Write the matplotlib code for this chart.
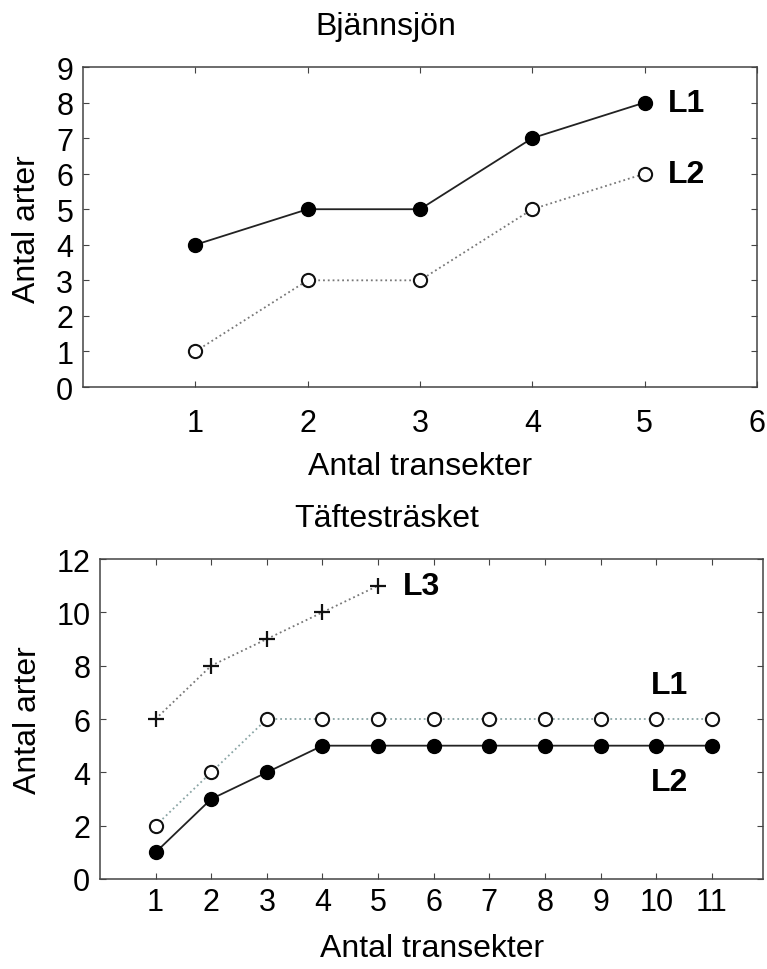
import matplotlib
matplotlib.use("Agg")
import matplotlib.pyplot as plt

plt.rcParams['font.family'] = ['Liberation Sans', 'DejaVu Sans']

# ---- data ----
top_title = "Bjännsjön"
bot_title = "Täftesträsket"
xlabel = "Antal transekter"
ylabel = "Antal arter"

top_x = [1, 2, 3, 4, 5]
top_L1 = [4, 5, 5, 7, 8]
top_L2 = [1, 3, 3, 5, 6]
top_xticks = [1, 2, 3, 4, 5, 6]
top_yticks = list(range(0, 10))

bot_x = [1, 2, 3, 4, 5, 6, 7, 8, 9, 10, 11]
bot_open = [2, 4, 6, 6, 6, 6, 6, 6, 6, 6, 6]
bot_filled = [1, 3, 4, 5, 5, 5, 5, 5, 5, 5, 5]
bot_x3 = [1, 2, 3, 4, 5]
bot_L3 = [6, 8, 9, 10, 11]
bot_xticks = list(range(1, 12))
bot_yticks = list(range(0, 13, 2))

W, H = 767, 970
fig = plt.figure(figsize=(W / 100, H / 100), dpi=100)

def box(l, t, r, b):
    return [l / W, 1 - b / H, (r - l) / W, (b - t) / H]

ax1 = fig.add_axes(box(83, 68, 757, 388))
ax2 = fig.add_axes(box(100, 560, 763, 880))

TICK_FS = 22
LAB_FS = 23
BOLD_FS = 23

def style(ax, xpad):
    for s in ax.spines.values():
        s.set_color('#444444')
        s.set_linewidth(1.1)
    ax.tick_params(direction='in', length=4, width=0.8, color='#444444',
                   top=True, right=True, labelsize=TICK_FS)
    ax.tick_params(axis='x', pad=xpad)
    ax.tick_params(axis='y', pad=7)

# top chart
ax1.plot(top_x, top_L1, '-', color='#222222', lw=1.3, marker='o', ms=10,
         mfc='black', mec='black', zorder=3)
ax1.plot(top_x, top_L2, ':', color='#777777', lw=1.3, marker='o', ms=9.5,
         mfc='white', mec='#111111', mew=1.5, zorder=3)
ax1.set_xlim(0, 6)
ax1.set_ylim(0, 9)
ax1.set_xticks(top_xticks)
ax1.set_yticks(top_yticks)
style(ax1, 15)
ax1.text(5.21, 8, "L1", fontsize=BOLD_FS, fontweight='bold', va='center', ha='left')
ax1.text(5.21, 6, "L2", fontsize=BOLD_FS, fontweight='bold', va='center', ha='left')

# bottom chart
ax2.plot(bot_x3, bot_L3, ':', color='#777777', lw=1.3, marker='+', ms=11,
         mec='#111111', mew=1.6, zorder=3)
ax2.plot(bot_x, bot_open, ':', color='#8aa5a5', lw=1.3, marker='o', ms=9.5,
         mfc='white', mec='#111111', mew=1.5, zorder=3)
ax2.plot(bot_x, bot_filled, '-', color='#222222', lw=1.3, marker='o', ms=10,
         mfc='black', mec='black', zorder=3)
ax2.set_xlim(0, 11.92)
ax2.set_ylim(0, 12)
ax2.set_xticks(bot_xticks)
ax2.set_yticks(bot_yticks)
style(ax2, 6)
ax2.text(5.45, 11, "L3", fontsize=BOLD_FS, fontweight='bold', va='center', ha='left')
ax2.text(9.9, 7.27, "L1", fontsize=BOLD_FS, fontweight='bold', va='center', ha='left')
ax2.text(9.9, 3.64, "L2", fontsize=BOLD_FS, fontweight='bold', va='center', ha='left')

# titles and axis labels
fig.text(386 / W, 1 - 35 / H, top_title, fontsize=LAB_FS, ha='center', va='baseline')
fig.text(387 / W, 1 - 527 / H, bot_title, fontsize=LAB_FS, ha='center', va='baseline')
fig.text(420 / W, 1 - 475 / H, xlabel, fontsize=LAB_FS, ha='center', va='baseline')
fig.text(432 / W, 1 - 957 / H, xlabel, fontsize=LAB_FS, ha='center', va='baseline')
fig.text(27 / W, 1 - 229 / H, ylabel, fontsize=LAB_FS, ha='center', va='center', rotation=90)
fig.text(28 / W, 1 - 720 / H, ylabel, fontsize=LAB_FS, ha='center', va='center', rotation=90)

fig.savefig("out.png", dpi=100)
